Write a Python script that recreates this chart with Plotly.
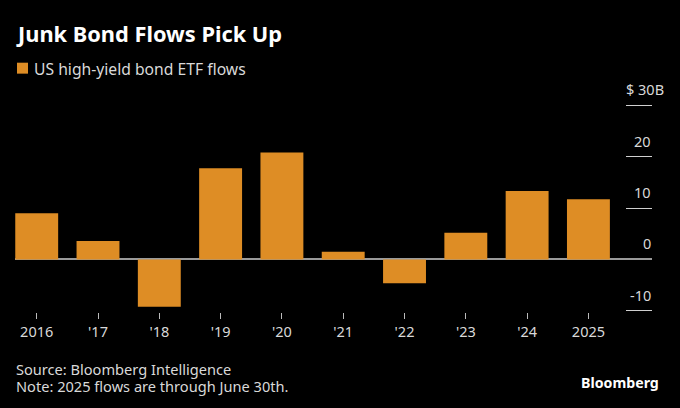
"""Junk bond ETF flows bar chart."""

import plotly.graph_objects as go

years = ["2016", "'17", "'18", "'19", "'20", "'21", "'22", "'23", "'24", "2025"]
flows = [9.0, 3.6, -9.2, 17.7, 20.8, 1.5, -4.6, 5.2, 13.3, 11.7]
y_ticks = [-10, 0, 10, 20, 30]
y_labels = ["-10", "0", "10", "20", "$ 30B"]

WIDTH, HEIGHT = 680, 408
LEFT, RIGHT, TOP, BOTTOM = 15, 652, 103.5, 312.5
ORANGE = "#DE8D25"
TEXT = "#D9D9D9"
FONT = "Noto Sans"


def fx(px):
    return (px - LEFT) / (RIGHT - LEFT)


def fy(px):
    return (BOTTOM - px) / (BOTTOM - TOP)


def add_text(fig, px, py, text, size=14, color=TEXT, anchor="left", bold=False):
    fig.add_annotation(
        x=fx(px), y=fy(py), xref="paper", yref="paper", text=f"<b>{text}</b>" if bold else text,
        showarrow=False, xanchor=anchor, yanchor="middle", align=anchor,
        font=dict(family=FONT, size=size, color=color), borderpad=0,
    )


fig = go.Figure(go.Bar(x=list(range(len(years))), y=flows, marker=dict(color=ORANGE, line_width=0), width=0.7))

fig.update_layout(
    width=WIDTH, height=HEIGHT, autosize=False, showlegend=False,
    paper_bgcolor="black", plot_bgcolor="black",
    margin=dict(l=LEFT, r=WIDTH - RIGHT, t=TOP, b=HEIGHT - BOTTOM, pad=0),
)
fig.update_xaxes(
    range=[-0.354, 10.037], tickmode="array", tickvals=list(range(len(years))), ticktext=years,
    showgrid=False, zeroline=False, showline=False, ticks="outside", ticklen=6, tickwidth=1,
    tickcolor="#BBBBBB", tickfont=dict(family=FONT, size=14.5, color=TEXT), ticklabelstandoff=1,
)
# range runs slightly past -10 and 30 so the end ticks are not dropped
fig.update_yaxes(
    range=[-10.2, 30.2], side="right", tickmode="array", tickvals=[t for t in y_ticks if t != 0],
    showticklabels=False, showgrid=False, showline=False, ticks="inside", ticklen=26, tickwidth=1,
    tickcolor="#D0D0D0", zeroline=True, zerolinecolor="#9A9A9A", zerolinewidth=1.5,
)

for tick, label in zip(y_ticks, y_labels):
    # value labels sit just above their tick line
    fig.add_annotation(
        x=1, y=tick, xref="paper", yref="y", text=label, showarrow=False,
        xanchor="right", yanchor="bottom", yshift=5, xshift=13 if label.endswith("B") else 0,
        font=dict(family=FONT, size=14.5, color=TEXT), borderpad=0,
    )

add_text(fig, 15, 33, "Junk Bond Flows Pick Up", size=21.8, color="#FFFFFF", bold=True)
add_text(fig, 33, 68, "US high-yield bond ETF flows", size=15.7)
# annotation size sets the line spacing, the span sets the glyph size
add_text(
    fig, 15, 378.5,
    '<span style="font-size:14.6px">Source: Bloomberg Intelligence</span><br>'
    '<span style="font-size:14.6px">Note: 2025 flows are through June 30th.</span>',
    size=12.7,
)
add_text(fig, 660, 383, "Bloomberg", size=14.2, color="#FFFFFF", anchor="right", bold=True)

# legend swatch
fig.add_shape(
    type="rect", xref="paper", yref="paper", x0=fx(17), x1=fx(28), y0=fy(62), y1=fy(73),
    fillcolor=ORANGE, line_width=0,
)

# the page's default body margin would offset the chart inside the 680x408 window
fig.write_html(
    "out.html",
    config={"displayModeBar": False},
    post_script="document.body.style.margin='0';document.body.style.background='black';",
)
